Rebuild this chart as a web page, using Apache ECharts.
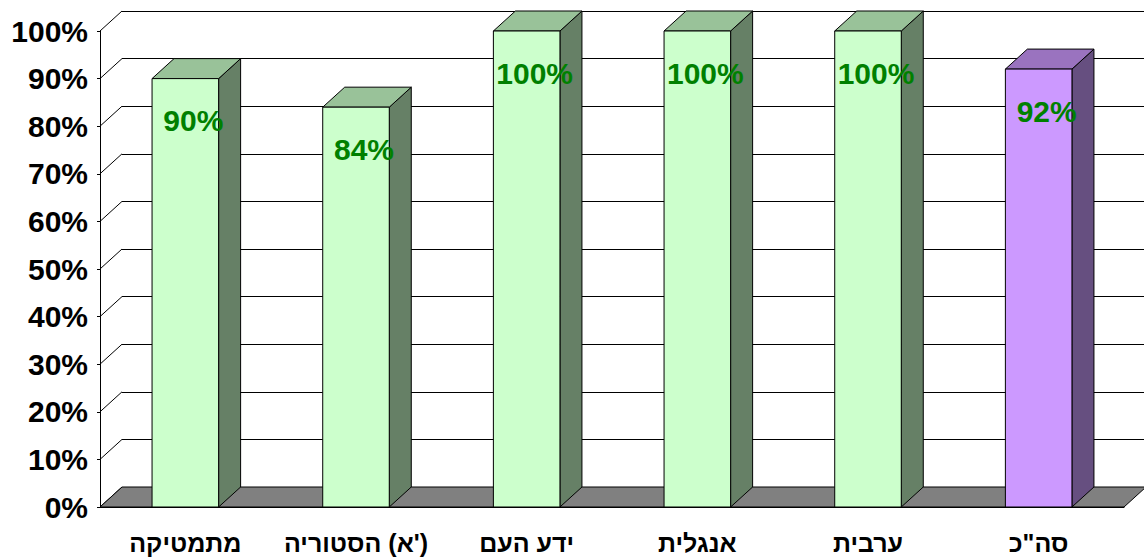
<!DOCTYPE html>
<html>
<head>
<meta charset="utf-8">
<script src="https://cdn.jsdelivr.net/npm/echarts@6/dist/echarts.min.js"></script>
<style>
  html, body { margin: 0; padding: 0; background: #fff; }
  #chart { width: 1144px; height: 558px; }
</style>
</head>
<body>
<div id="chart"></div>
<script>
// data
var categories = ['מתמטיקה', "הסטוריה (א')", 'ידע העם', 'אנגלית', 'ערבית', 'סה"כ'];
var values = [90, 84, 100, 100, 100, 92];
var yTicks = [0, 10, 20, 30, 40, 50, 60, 70, 80, 90, 100];

var FONT = 'Arial, "Liberation Sans", sans-serif';
var DX = 22, DY = -20; // depth of the 3d look
var green = { front: '#ccffcc', top: '#99c299', side: '#668066' };
var purple = { front: '#cc99ff', top: '#9a73bf', side: '#664f80' };

var chart = echarts.init(document.getElementById('chart'), null, { renderer: 'svg' });

function catLabel(v) {
  // the original shows the word first, then "(א')" left to right
  if (v === "הסטוריה (א')") {
    return "\u2066הסטוריה\u200E (\u200Eא\u200E')\u2069";
  }
  return v;
}

chart.setOption({
  animation: false,
  grid: [
    { left: 100, right: 20, top: 31, bottom: 51 },
    { left: 122, right: 0, top: 11, bottom: 71 }
  ],
  xAxis: [
    {
      type: 'category',
      data: categories,
      axisLine: { lineStyle: { color: '#000', width: 1 } },
      axisTick: { length: 8, lineStyle: { color: '#000' } },
      axisLabel: {
        interval: 0,
        color: '#000',
        fontFamily: FONT,
        fontWeight: 'bold',
        fontSize: 25,
        margin: 23,
        formatter: catLabel
      },
      splitLine: { show: false }
    },
    { type: 'value', gridIndex: 1, show: false, min: 0, max: 1 }
  ],
  yAxis: [
    {
      type: 'value',
      min: 0,
      max: 100,
      interval: 10,
      axisLine: { show: true, lineStyle: { color: '#000', width: 1 } },
      axisTick: { show: true, length: 3, lineStyle: { color: '#000' } },
      axisLabel: {
        color: '#000',
        fontFamily: FONT,
        fontWeight: 'bold',
        fontSize: 30,
        margin: 12,
        formatter: '{value}%'
      },
      splitLine: { show: false }
    },
    {
      type: 'value',
      gridIndex: 1,
      min: 0,
      max: 100,
      interval: 10,
      axisLine: { show: false },
      axisTick: { show: false },
      axisLabel: { show: false },
      splitLine: { show: true, lineStyle: { color: '#000', width: 1 } }
    }
  ],
  series: [
    {
      // left wall lines
      type: 'custom',
      z: 1,
      data: yTicks.map(function (t) { return [0, t]; }),
      renderItem: function (params, api) {
        var p = api.coord([0, api.value(1)]);
        var x = params.coordSys.x;
        return {
          type: 'line',
          shape: { x1: x, y1: p[1], x2: x + DX, y2: p[1] + DY },
          style: { stroke: '#000', lineWidth: 1 }
        };
      }
    },
    {
      // floor
      type: 'custom',
      z: 2,
      data: [[0, 0]],
      renderItem: function (params, api) {
        var cs = params.coordSys;
        var y = api.coord([0, 0])[1];
        return {
          type: 'polygon',
          shape: {
            points: [
              [cs.x, y], [cs.x + cs.width, y],
              [cs.x + cs.width + DX, y + DY], [cs.x + DX, y + DY]
            ]
          },
          style: { fill: '#808080', stroke: '#000', lineWidth: 1 }
        };
      }
    },
    {
      // bars
      type: 'custom',
      z: 3,
      data: values.map(function (v, i) { return [i, v]; }),
      renderItem: function (params, api) {
        var i = api.value(0), v = api.value(1);
        var c = i === values.length - 1 ? purple : green;
        var base = api.coord([i, 0]);
        var top = api.coord([i, v]);
        var bw = api.size([1, 0])[0] * 0.39;
        var x0 = base[0] - bw / 2, x1 = base[0] + bw / 2;
        var yb = base[1], yt = top[1];
        var edge = { stroke: '#000', lineWidth: 1 };
        return {
          type: 'group',
          children: [
            {
              type: 'polygon',
              shape: { points: [[x1, yb], [x1 + DX, yb + DY], [x1 + DX, yt + DY], [x1, yt]] },
              style: Object.assign({ fill: c.side }, edge)
            },
            {
              type: 'polygon',
              shape: { points: [[x0, yt], [x1, yt], [x1 + DX, yt + DY], [x0 + DX, yt + DY]] },
              style: Object.assign({ fill: c.top }, edge)
            },
            {
              type: 'rect',
              shape: { x: x0, y: yt, width: bw, height: yb - yt },
              style: Object.assign({ fill: c.front }, edge)
            },
            {
              type: 'text',
              style: {
                text: v + '%',
                x: base[0] + 8,
                y: yt + 42,
                fill: '#008000',
                font: 'bold 30px ' + FONT,
                align: 'center',
                verticalAlign: 'middle'
              }
            }
          ]
        };
      }
    }
  ]
});
</script>
</body>
</html>
